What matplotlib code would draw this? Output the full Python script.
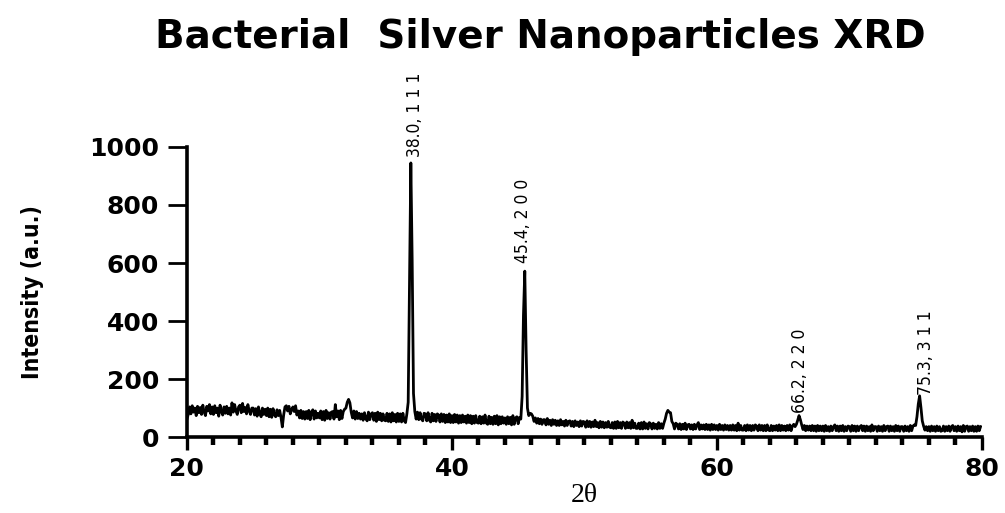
import numpy as np
import matplotlib
matplotlib.use("Agg")
import matplotlib.pyplot as plt
from matplotlib.ticker import MultipleLocator

# ---- data (intensity, 0.1 degree steps from 20.0) ----
two_theta_start = 20.0
two_theta_step = 0.1
intensity_rows = [
    [62, 78, 104, 80, 108, 86, 100, 74, 106, 84],      # 20
    [102, 78, 110, 86, 74, 106, 90, 112, 80, 104],     # 21
    [78, 108, 84, 100, 72, 110, 88, 76, 104, 82],      # 22
    [106, 80, 100, 76, 118, 86, 112, 90, 78, 104],     # 23
    [110, 84, 116, 88, 102, 80, 112, 90, 78, 100],     # 24
    [100, 76, 98, 72, 104, 82, 70, 100, 78, 96],       # 25
    [74, 100, 70, 96, 68, 98, 76, 70, 94, 74],         # 26
    [92, 68, 35, 76, 104, 108, 90, 106, 80, 94],       # 27
    [104, 88, 108, 76, 90, 66, 92, 64, 88, 62],        # 28
    [88, 64, 92, 60, 86, 94, 62, 90, 66, 82],          # 29
    [66, 90, 60, 88, 58, 92, 64, 84, 62, 86],          # 30
    [88, 62, 112, 70, 90, 60, 92, 64, 88, 96],         # 31
    [100, 120, 130, 118, 86, 66, 90, 62, 88, 64],      # 32
    [82, 62, 80, 58, 84, 64, 56, 86, 60, 80],          # 33
    [84, 58, 82, 54, 86, 60, 82, 56, 80, 58],          # 34
    [56, 82, 54, 80, 52, 84, 56, 78, 52, 82],          # 35
    [54, 80, 52, 82, 56, 50, 80, 120, 530, 945],       # 36
    [610, 150, 88, 62, 86, 60, 84, 62, 56, 82],        # 37
    [80, 56, 84, 58, 52, 82, 56, 78, 54, 80],          # 38
    [76, 52, 80, 54, 78, 50, 76, 52, 80, 50],          # 39
    [74, 50, 78, 52, 76, 48, 74, 50, 76, 52],          # 40
    [72, 48, 76, 50, 74, 46, 72, 48, 74, 50],          # 41
    [48, 72, 46, 70, 48, 76, 48, 44, 72, 46],          # 42
    [68, 44, 72, 46, 74, 42, 70, 46, 70, 48],          # 43
    [66, 44, 70, 46, 68, 42, 74, 44, 66, 70],          # 44
    [46, 68, 62, 140, 420, 572, 300, 100, 74, 82],     # 45
    [80, 72, 54, 66, 48, 64, 46, 62, 44, 60],          # 46
    [60, 42, 64, 44, 58, 40, 60, 44, 58, 40],          # 47
    [56, 40, 60, 42, 54, 38, 58, 40, 54, 56],          # 48
    [38, 54, 36, 56, 40, 52, 36, 56, 38, 54],          # 49
    [52, 34, 56, 36, 54, 34, 52, 36, 58, 36],          # 50
    [50, 32, 54, 34, 52, 32, 50, 34, 54, 34],          # 51
    [32, 50, 30, 52, 30, 54, 32, 50, 30, 52],          # 52
    [48, 30, 52, 32, 50, 30, 58, 32, 48, 30],          # 53
    [30, 48, 28, 50, 28, 52, 30, 46, 28, 50],          # 54
    [46, 28, 48, 30, 44, 28, 50, 30, 46, 30],          # 55
    [48, 62, 82, 92, 86, 84, 54, 46, 28, 48],          # 56
    [44, 28, 46, 26, 44, 28, 48, 26, 42, 44],          # 57
    [28, 42, 26, 44, 28, 42, 50, 26, 42, 28],          # 58
    [42, 26, 44, 26, 42, 24, 44, 26, 42, 26],          # 59
    [40, 24, 44, 26, 40, 24, 42, 26, 40, 24],          # 60
    [40, 24, 42, 24, 40, 22, 48, 24, 40, 24],          # 61
    [24, 40, 22, 42, 24, 40, 22, 40, 24, 42],          # 62
    [38, 22, 42, 24, 40, 22, 40, 22, 42, 24],          # 63
    [22, 40, 22, 38, 24, 40, 22, 42, 22, 40],          # 64
    [24, 38, 22, 40, 24, 42, 22, 38, 44, 36],          # 65
    [44, 58, 74, 60, 42, 26, 40, 22, 38, 24],          # 66
    [38, 22, 40, 22, 38, 20, 40, 22, 38, 22],          # 67
    [38, 20, 40, 22, 36, 20, 38, 22, 36, 42],          # 68
    [22, 38, 20, 38, 22, 40, 20, 36, 22, 38],          # 69
    [36, 20, 40, 22, 38, 20, 38, 22, 36, 40],          # 70
    [22, 38, 20, 38, 22, 36, 20, 42, 22, 36],          # 71
    [36, 20, 38, 22, 36, 20, 40, 22, 36, 38],          # 72
    [20, 38, 22, 36, 20, 40, 22, 38, 20, 36],          # 73
    [36, 20, 38, 22, 36, 20, 40, 22, 38, 42],          # 74
    [40, 70, 114, 142, 102, 56, 38, 24, 36, 22],       # 75
    [36, 20, 38, 22, 36, 20, 38, 22, 36, 20],          # 76
    [22, 38, 20, 36, 22, 38, 20, 36, 40, 22],          # 77
    [36, 20, 38, 22, 36, 18, 40, 20, 36, 38],          # 78
    [20, 36, 22, 38, 20, 36, 20, 38, 22, 36],          # 79
]
intensity = np.array([v for row in intensity_rows for v in row], dtype=float)
two_theta = np.round(two_theta_start + two_theta_step * np.arange(len(intensity)), 1)

peak_labels = ["38.0, 1 1 1", "45.4, 2 0 0", "66.2, 2 2 0", "75.3, 3 1 1"]
peak_label_x = [37.2, 45.4, 66.3, 75.8]
peak_label_y = [965, 600, 83, 145]

x_ticks = [20, 40, 60, 80]
y_ticks = [0, 200, 400, 600, 800, 1000]

# ---- figure ----
fig = plt.figure(figsize=(10.05, 5.13), dpi=100)
ax = fig.add_axes([0.186, 0.148, 0.791, 0.5655])

ax.plot(two_theta, intensity, color="black", lw=2.0)

ax.set_xlim(20, 80)
ax.set_ylim(0, 1000)
ax.set_xticks(x_ticks)
ax.set_yticks(y_ticks)
ax.xaxis.set_minor_locator(MultipleLocator(2))

for s in ["top", "right"]:
    ax.spines[s].set_visible(False)
for s in ["left", "bottom"]:
    ax.spines[s].set_linewidth(2.6)

ax.tick_params(axis="x", which="major", direction="out", length=9.5, width=2.4, pad=5)
ax.tick_params(axis="y", which="major", direction="out", length=14, width=2.0, pad=6)
ax.tick_params(axis="x", which="minor", direction="out", length=5.5, width=3.2)
for lab in ax.get_xticklabels() + ax.get_yticklabels():
    lab.set_fontfamily("DejaVu Sans")
    lab.set_fontweight("bold")
    lab.set_fontsize(18)

narrow = ["DejaVu Sans"]
for txt, xp, yp in zip(peak_labels, peak_label_x, peak_label_y):
    ax.text(xp, yp, txt, rotation=90, ha="center", va="bottom",
            family=narrow, fontstretch="condensed", fontsize=12.5)

ax.set_ylabel("Intensity (a.u.)", family=narrow, fontstretch="condensed",
              fontweight="bold", fontsize=16.5, va="center")
ax.yaxis.set_label_coords(-0.194, 0.5)
ax.set_xlabel("2θ", family=["Liberation Serif", "DejaVu Serif"], fontsize=20, va="center")
ax.xaxis.set_label_coords(0.5, -0.2)

fig.text(0.538, 0.928, "Bacterial  Silver Nanoparticles XRD", ha="center", va="center",
         family="DejaVu Sans", weight="bold", fontsize=28)

fig.savefig("out.png", dpi=100)
